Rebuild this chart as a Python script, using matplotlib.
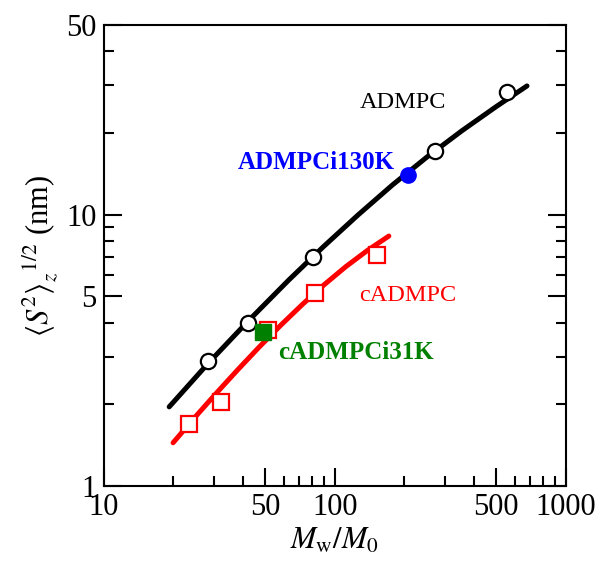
import matplotlib
matplotlib.use("Agg")
import matplotlib.pyplot as plt
from matplotlib.ticker import FixedLocator, NullFormatter, FixedFormatter

plt.rcParams['font.family'] = ['Liberation Serif', 'DejaVu Serif']
plt.rcParams['mathtext.fontset'] = 'stix'

# wormlike-chain curves
admpc_curve_x = [19.19, 28.18, 42.17, 63.10, 89.13, 125.9, 177.8, 251.2, 354.8, 501.2, 679.2]
admpc_curve_y = [1.959, 2.823, 4.057, 5.738, 7.615, 9.970, 12.88, 16.34, 20.38, 25.07, 29.82]
cadmpc_curve_x = [19.95, 24.74, 30.68, 38.04, 47.17, 58.48, 72.52, 89.92, 111.5, 138.3, 171.4]
cadmpc_curve_y = [1.445, 1.789, 2.199, 2.686, 3.261, 3.923, 4.678, 5.521, 6.433, 7.381, 8.344]

# measured points
admpc_x = [28.3, 42.2, 80.5, 271, 559]
admpc_y = [2.89, 4.0, 7.0, 17.2, 28.3]
cadmpc_x = [23.4, 32.3, 51.4, 81.8, 152]
cadmpc_y = [1.70, 2.045, 3.76, 5.14, 7.13]
admpci130k_x = [207.6]
admpci130k_y = [14.0]
cadmpci31k_x = [48.9]
cadmpci31k_y = [3.69]

xticks = [10, 50, 100, 500, 1000]
yticks = [1, 5, 10, 50]

fig = plt.figure(figsize=(6, 5.62), dpi=100)
ax = fig.add_axes([0.173, 0.135, 0.77, 0.8205])
ax.set_xscale('log')
ax.set_yscale('log')
ax.set_xlim(10, 1000)
ax.set_ylim(1, 50)

ax.plot(admpc_curve_x, admpc_curve_y, color='black', lw=3.6,
        solid_capstyle='round', solid_joinstyle='round', zorder=2)
ax.plot(cadmpc_curve_x, cadmpc_curve_y, color='red', lw=3.6,
        solid_capstyle='round', solid_joinstyle='round', zorder=2)

ax.plot(admpc_x, admpc_y, 'o', ms=11, mfc='white', mec='black', mew=1.6, zorder=3)
ax.plot(cadmpc_x, cadmpc_y, 's', ms=11.5, mfc='white', mec='red', mew=1.6, zorder=3)
ax.plot(admpci130k_x, admpci130k_y, 'o', ms=11, color='blue', zorder=4)
ax.plot(cadmpci31k_x, cadmpci31k_y, 's', ms=11.5, color='green', zorder=4)

ax.text(128, 25.8, 'ADMPC', color='black', fontsize=17.5, va='center')
ax.text(38.0, 15.6, 'ADMPCi130K', color='blue', fontsize=18, fontweight='bold', va='center')
ax.text(128, 5.06, 'cADMPC', color='red', fontsize=17.5, va='center')
ax.text(56.6, 3.10, 'cADMPCi31K', color='green', fontsize=18, fontweight='bold', va='center')

ax.xaxis.set_major_locator(FixedLocator(xticks))
ax.xaxis.set_major_formatter(FixedFormatter([str(t) for t in xticks]))
ax.xaxis.set_minor_locator(FixedLocator([20, 30, 40, 60, 70, 80, 90,
                                         200, 300, 400, 600, 700, 800, 900]))
ax.xaxis.set_minor_formatter(NullFormatter())
ax.yaxis.set_major_locator(FixedLocator(yticks))
ax.yaxis.set_major_formatter(FixedFormatter([str(t) for t in yticks]))
ax.yaxis.set_minor_locator(FixedLocator([2, 3, 4, 6, 7, 8, 9, 20, 30, 40]))
ax.yaxis.set_minor_formatter(NullFormatter())

ax.tick_params(which='both', direction='in', top=False, right=True, width=1.5,
               labelsize=22)
ax.tick_params(which='major', length=13, pad=5)
ax.tick_params(which='minor', length=7)
for s in ax.spines.values():
    s.set_linewidth(1.5)

ax.set_xlabel(r'$M_{\rm w}/M_{0}$', fontsize=22, labelpad=3)
ax.set_ylabel(r'$\langle S^{2}\rangle_{z}^{\ \ 1/2}$ (nm)', fontsize=22, labelpad=4)

fig.savefig('out.png', dpi=100)
